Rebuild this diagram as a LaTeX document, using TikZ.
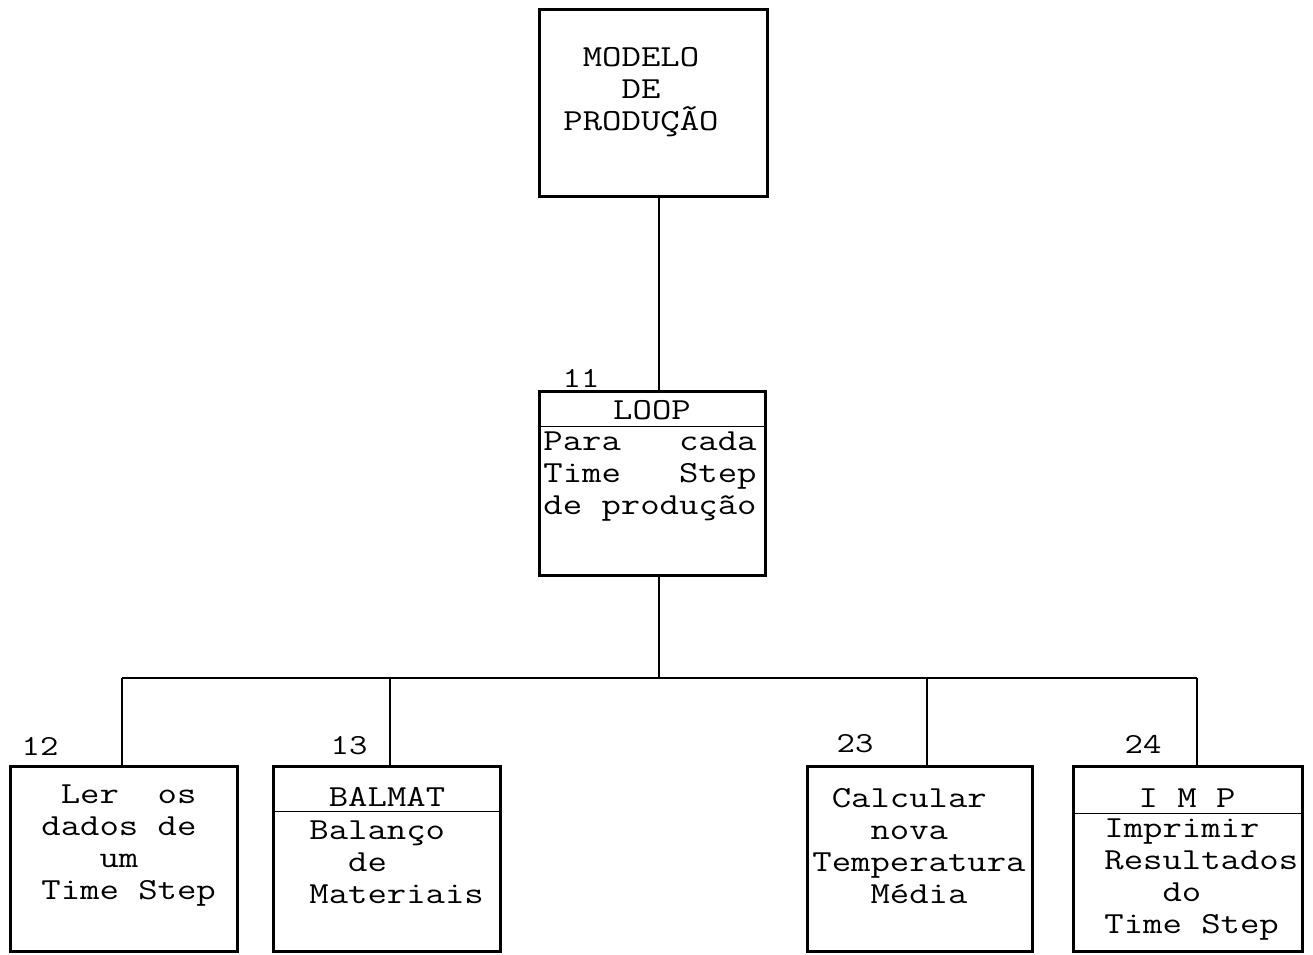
\documentclass[tikz,border=0pt]{standalone}
\usepackage{fontspec}
\setmonofont[FakeStretch=1.23]{Latin Modern Mono}
\begin{document}
\begin{tikzpicture}[x=0.5pt,y=-0.5pt,
  box/.style={draw,line width=1.5pt,rectangle,inner sep=0pt},
  txt/.style={inner sep=0pt,font=\ttfamily\fontsize{15.3}{16}\selectfont},
  lbl/.style={inner sep=0pt,font=\ttfamily\fontsize{14.5}{15}\selectfont},
  conn/.style={line width=0.8pt},
  sep/.style={line width=0.8pt}]
\useasboundingbox (0,0) rectangle (1313,954);
% boxes
\node[box,minimum width=114pt,minimum height=93.5pt] (top) at (653,102.5) {};
\node[box,minimum width=113pt,minimum height=92pt] (loop) at (652,483) {};
\node[box,minimum width=113.5pt,minimum height=92.5pt] (b1) at (123.5,858.5) {};
\node[box,minimum width=113.5pt,minimum height=92.5pt] (b2) at (386.5,858.5) {};
\node[box,minimum width=112.5pt,minimum height=92.5pt] (b3) at (919.5,858.5) {};
\node[box,minimum width=114.5pt,minimum height=92.5pt] (b4) at (1187.5,858.5) {};
% separators
\draw[sep] ([yshift=-18.5pt]loop.north west) -- ([yshift=-18.5pt]loop.north east);
\draw[sep] ([yshift=-23.5pt]b2.north west) -- ([yshift=-23.5pt]b2.north east);
\draw[sep] ([yshift=-24.5pt]b4.north west) -- ([yshift=-24.5pt]b4.north east);
% texts
\node[txt,align=center] (ttop) at (641,92.5) {MODELO\\DE\\PRODUÇÃO};
\node[txt] (tloophead) at (652,410) {LOOP};
\node[txt,align=left,anchor=west] (tloop) at (543,477) {Para~~~cada\\Time~~~Step\\de produção};
\node[txt,align=left,anchor=west] (tb1) at (41,846) {\phantom{x}Ler\phantom{xx}os\\dados de\\\phantom{xxx}um\\Time Step};
\node[txt] (tb2head) at (387,797) {BALMAT};
\node[txt,align=left,anchor=west] (tb2) at (309,862) {Balanço\\\phantom{xx}de\\Materiais};
\node[txt,align=left,anchor=west] (tb3) at (812,846) {\phantom{x}Calcular\\\phantom{xxx}nova\\Temperatura\\\phantom{xxx}Média};
\node[txt] (tb4head) at (1187,798) {I M P};
\node[txt,align=left,anchor=west] (tb4) at (1104,880) {Imprimir\\Resultados\\\phantom{xxx}do\\Time Step};
% labels
\node[lbl] (l11) at (581,378) {11};
\node[lbl] (l12) at (40,746) {12};
\node[lbl] (l13) at (349,746) {13};
\node[lbl] (l23) at (855,744) {23};
\node[lbl] (l24) at (1143,744) {24};
% connectors
\coordinate (bus) at (659,678);
\coordinate (c1) at (122,678);
\coordinate (c2) at (390,678);
\coordinate (c3) at (927,678);
\coordinate (c4) at (1197,678);
\draw[conn] ([xshift=3pt]top.south) -- ([xshift=3pt]top.south |- loop.north);
\draw[conn] (loop.south -| bus) -- (bus);
\draw[conn] (c1) -- (c4);
\draw[conn] (c1) -- (c1 |- b1.north);
\draw[conn] (c2) -- (c2 |- b2.north);
\draw[conn] (c3) -- (c3 |- b3.north);
\draw[conn] (c4) -- (c4 |- b4.north);
\end{tikzpicture}
\end{document}
